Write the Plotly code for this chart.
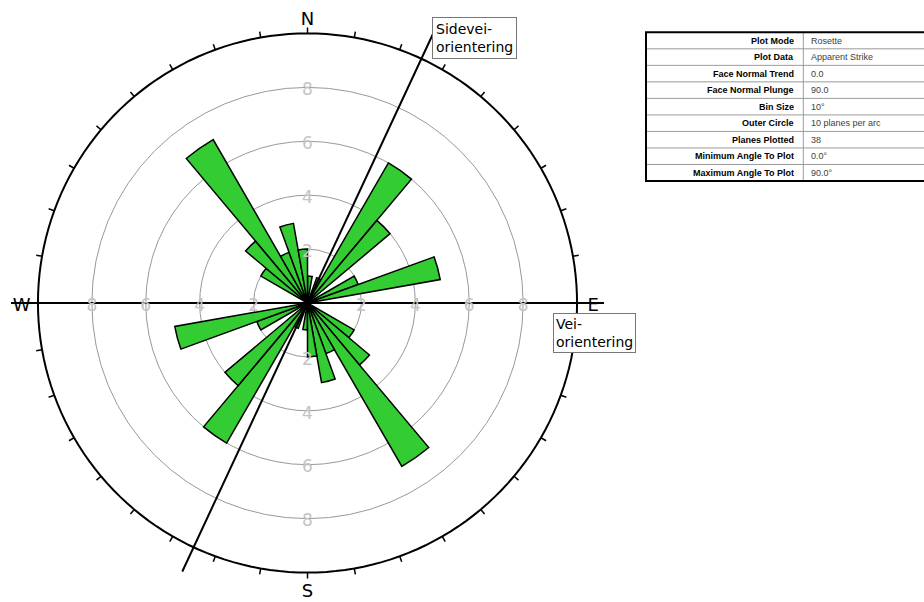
import math
import plotly.graph_objects as go

# ---------------- data ----------------
bin_size = 10
# counts per 10° strike bin, 0-180° (rosette is bidirectional -> mirrored)
strike_counts = [1, 0, 1, 6, 4, 0, 2, 5, 0, 0, 0, 0, 2, 3, 7, 2, 3, 2]
outer_circle = 10          # planes per arc
ring_values = [2, 4, 6, 8]
cardinal_labels = ["N", "E", "S", "W"]
cardinal_angles = [0, 90, 180, 270]
road_trend = 90            # Vei-orientering
side_road_trend = 25       # Sidevei-orientering
line_extent = 11

table_labels = ["Plot Mode", "Plot Data", "Face Normal Trend", "Face Normal Plunge",
                "Bin Size", "Outer Circle", "Planes Plotted",
                "Minimum Angle To Plot", "Maximum Angle To Plot"]
table_values = ["Rosette", "Apparent Strike", "0.0", "90.0", "10°",
                "10 planes per arc", "38", "0.0°", "90.0°"]

# ---------------- figure ----------------
W, H = 924, 602
cx, cy, R = 307.5, 303, 296.5
px_per_unit = R / line_extent
text_drop = 3.5  # px: push labels down so they sit centred on their point


def shifted(r, a):
    """polar position (r, theta) moved down by text_drop pixels on screen"""
    x = r * px_per_unit * math.sin(math.radians(a))
    y = r * px_per_unit * math.cos(math.radians(a)) - text_drop
    return math.hypot(x, y) / px_per_unit, math.degrees(math.atan2(x, y))


fig = go.Figure()

thetas, rs = [], []
for i, c in enumerate(strike_counts):
    if c > 0:
        t = i * bin_size + bin_size / 2
        thetas += [t, t + 180]
        rs += [c, c]

fig.add_trace(go.Barpolar(
    r=rs, theta=thetas, width=[bin_size] * len(rs),
    marker=dict(color="#33cc33", line=dict(color="black", width=1.5)),
    hoverinfo="skip"))

# outer circle
circ_t = list(range(0, 361, 2))
fig.add_trace(go.Scatterpolar(r=[outer_circle] * len(circ_t), theta=circ_t, mode="lines",
                              line=dict(color="black", width=2), hoverinfo="skip"))

# ticks every 10 degrees, outside the circle
tr, tt = [], []
for a in range(0, 360, 10):
    tr += [outer_circle, outer_circle + 0.22, None]
    tt += [a, a, None]
fig.add_trace(go.Scatterpolar(r=tr, theta=tt, mode="lines",
                              line=dict(color="black", width=1.5), hoverinfo="skip"))

# road lines
for trend in (road_trend, side_road_trend):
    fig.add_trace(go.Scatterpolar(r=[line_extent, line_extent], theta=[trend, trend + 180],
                                  mode="lines", line=dict(color="black", width=2),
                                  hoverinfo="skip"))

# ring labels
lr, lt, ltxt = [], [], []
for v in ring_values:
    for a in cardinal_angles:
        r2, a2 = shifted(v, a)
        lr.append(r2); lt.append(a2); ltxt.append(str(v))
fig.add_trace(go.Scatterpolar(r=lr, theta=lt, text=ltxt, mode="text",
                              textfont=dict(family="DejaVu Sans", size=17, color="#c4c4c4"),
                              hoverinfo="skip"))

# cardinal labels
cr, ct = [], []
for a in cardinal_angles:
    r2, a2 = shifted(10.6, a)
    cr.append(r2); ct.append(a2)
fig.add_trace(go.Scatterpolar(r=cr, theta=ct, text=cardinal_labels, mode="text",
                              textfont=dict(family="DejaVu Sans", size=18, color="black"),
                              hoverinfo="skip"))

# ---------------- info table (drawn with shapes + text) ----------------
t_left, t_right, t_top, t_bottom, t_split = 646, 930, 32.3, 181, 803.3
row_h = (t_bottom - t_top) / len(table_labels)
shapes = []
annotations = []
for i in range(1, len(table_labels)):
    yy = 1 - (t_top + i * row_h) / H
    shapes.append(dict(type="line", xref="paper", yref="paper", x0=t_left / W, x1=t_right / W,
                       y0=yy, y1=yy, line=dict(color="#9a9a9a", width=1)))
shapes.append(dict(type="line", xref="paper", yref="paper", x0=t_split / W, x1=t_split / W,
                   y0=1 - t_bottom / H, y1=1 - t_top / H, line=dict(color="#9a9a9a", width=1)))
shapes.append(dict(type="rect", xref="paper", yref="paper", x0=t_left / W, x1=t_right / W,
                   y0=1 - t_bottom / H, y1=1 - t_top / H, line=dict(color="black", width=2)))
for i, (lab, val) in enumerate(zip(table_labels, table_values)):
    yc = 1 - (t_top + (i + 0.5) * row_h) / H
    annotations.append(dict(text="<b>" + lab + "</b>", xref="paper", yref="paper",
                            x=(t_split - 7) / W, y=yc, xanchor="right", yanchor="middle",
                            showarrow=False,
                            font=dict(family="Liberation Sans", size=9, color="black")))
    annotations.append(dict(text=val, xref="paper", yref="paper",
                            x=(t_split + 6) / W, y=yc, xanchor="left", yanchor="middle",
                            showarrow=False,
                            font=dict(family="Liberation Sans", size=9, color="#404040")))

annotations += [
    dict(text="Sidevei-<br>orientering", xref="paper", yref="paper",
         x=432 / W, y=1 - 17 / H, xanchor="left", yanchor="top", align="left",
         showarrow=False, bgcolor="white", bordercolor="#777", borderwidth=1, borderpad=3,
         font=dict(family="DejaVu Sans", size=14, color="black")),
    dict(text="Vei-<br>orientering", xref="paper", yref="paper",
         x=553 / W, y=1 - 313 / H, xanchor="left", yanchor="top", align="left",
         showarrow=False, bgcolor="white", bordercolor="#777", borderwidth=1, borderpad=2,
         font=dict(family="DejaVu Sans", size=14, color="black")),
]

fig.update_layout(
    width=W, height=H, margin=dict(l=0, r=0, t=0, b=0),
    paper_bgcolor="white", showlegend=False,
    polar=dict(
        domain=dict(x=[(cx - R) / W, (cx + R) / W], y=[(H - cy - R) / H, (H - cy + R) / H]),
        bgcolor="white",
        radialaxis=dict(range=[0, line_extent], tickvals=ring_values, showticklabels=False,
                        ticks="", showline=False, gridcolor="#999", gridwidth=1),
        angularaxis=dict(rotation=90, direction="clockwise", showgrid=False, showline=False,
                         showticklabels=False, ticks=""),
        bargap=0),
    annotations=annotations,
    shapes=shapes,
)

fig.write_html("out.html")
